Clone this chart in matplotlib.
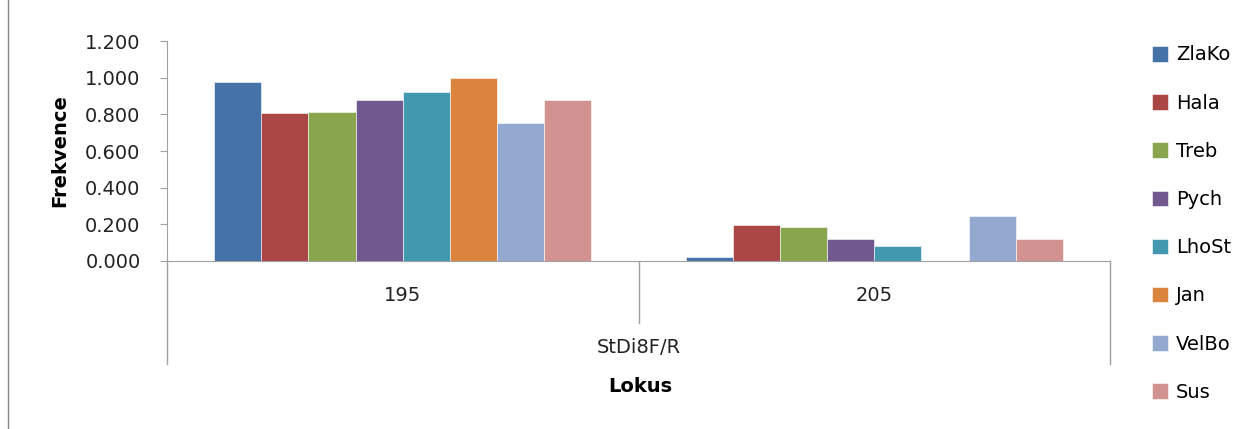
import numpy as np
import matplotlib
matplotlib.use("Agg")
import matplotlib.pyplot as plt
from matplotlib.lines import Line2D
from matplotlib.patches import Patch

plt.rcParams['font.family'] = ['DejaVu Sans']

alleles = ['195', '205']
locus = 'StDi8F/R'
populations = ['ZlaKo', 'Hala', 'Treb', 'Pych', 'LhoSt', 'Jan', 'VelBo', 'Sus']
freq_195 = [0.977, 0.805, 0.812, 0.878, 0.920, 1.000, 0.752, 0.878]
freq_205 = [0.023, 0.195, 0.188, 0.122, 0.080, 0.000, 0.248, 0.122]
colors = ['#4572A7', '#AA4643', '#89A54E', '#71588F', '#4198AF', '#DB843D', '#93A9CF', '#D19392']

W, H = 1256, 429
fig = plt.figure(figsize=(W / 100, H / 100), dpi=100)
ax = fig.add_axes([167 / W, 1 - 261 / H, (1110 - 167) / W, (261 - 41) / H])

x = np.arange(len(alleles))
width = 0.1
vals = np.array([freq_195, freq_205])
for i, pop in enumerate(populations):
    ax.bar(x - 0.35 + i * width, vals[:, i], width, color=colors[i],
           edgecolor='white', linewidth=0.4, label=pop)

ax.set_xlim(-0.5, 1.5)
ax.set_ylim(0, 1.2)
ticks = np.arange(0, 1.21, 0.2)
ax.set_yticks(ticks)
ax.set_yticklabels([f'{v:.3f}' for v in ticks], fontsize=14, color='#222222')
ax.set_xticks([])
for s in ['top', 'right']:
    ax.spines[s].set_visible(False)
for s in ['left', 'bottom']:
    ax.spines[s].set_color('#a0a0a0')
ax.tick_params(axis='y', length=5, color='#a0a0a0', pad=14)

# multi-level category axis below the plot
trans = ax.get_xaxis_transform()
for xv, bottom in [(-0.5, -0.47), (0.5, -0.28), (1.5, -0.47)]:
    ax.add_line(Line2D([xv, xv], [0, bottom], transform=trans, color='#a0a0a0',
                       linewidth=1, clip_on=False))
for xv, lab in zip(x, alleles):
    ax.text(xv, -0.155, lab, transform=trans, ha='center', va='center', fontsize=14, color='#222222')
ax.text(0.5, -0.395, locus, transform=trans, ha='center', va='center', fontsize=14, color='#222222')

fig.text(640 / W, 1 - 386 / H, 'Lokus', ha='center', va='center', fontsize=14, fontweight='bold')
fig.text(60 / W, 1 - 151 / H, 'Frekvence', ha='center', va='center', fontsize=14,
         fontweight='bold', rotation=90)

handles = [Patch(facecolor=c, edgecolor='white', linewidth=0.4) for c in colors]
fig.legend(handles, populations, loc='upper left', bbox_to_anchor=(1134 / W, 1 - 28 / H),
           frameon=False, fontsize=14, labelspacing=1.5, handlelength=0.85,
           handleheight=0.85, handletextpad=0.4)

fig.add_artist(Line2D([8 / W, 8 / W], [0, 1], transform=fig.transFigure, color='#888888', linewidth=1))

fig.savefig('out.png', dpi=100)
